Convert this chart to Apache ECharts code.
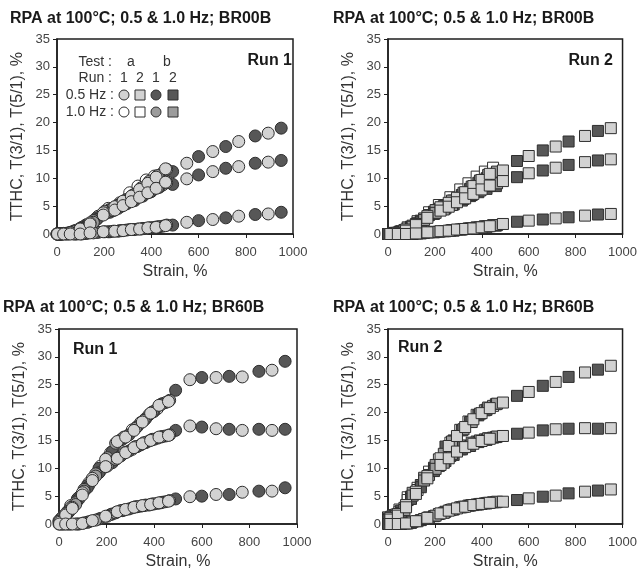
<!DOCTYPE html>
<html>
<head>
<meta charset="utf-8">
<script src="https://cdn.jsdelivr.net/npm/echarts@6/dist/echarts.min.js"></script>
<style>
  html, body { margin: 0; padding: 0; background: #fff; }
  #chart { width: 640px; height: 584px; }
</style>
</head>
<body>
<div id="chart"></div>
<script>
// Strain points (%) of the RPA sweeps
const strain05_s1 = [2, 28, 56, 98, 140, 196, 245, 280, 315, 350, 385, 420, 460, 550, 660, 770, 895];
const strain05_s2 = [10, 42, 77, 119, 168, 224, 259, 294, 329, 364, 399, 434, 490, 600, 715, 840, 950];
const strain10_s1 = [0, 21, 49, 84, 126, 175, 217, 266, 308, 343, 378, 413, 448];
const strain10_s2 = [14, 35, 70, 105, 154, 203, 238, 273, 322, 357, 392, 427, 465];

// BR00B, Run 1
const b00r1_a05_tthc = [0, 0.1, 0.3, 1.0, 2.0, 3.8, 4.9, 5.9, 6.8, 8.0, 9.1, 10.2, 11.7, 12.7, 14.8, 16.6, 18.1];
const b00r1_a05_t31  = [0, 0.1, 0.2, 0.9, 1.8, 3.4, 4.3, 5.1, 5.8, 6.6, 7.4, 8.2, 9.3, 9.9, 11.2, 12.1, 12.9];
const b00r1_a05_t51  = [0, 0, 0, 0, 0.2, 0.4, 0.5, 0.6, 0.8, 0.9, 1.1, 1.2, 1.5, 2.1, 2.6, 3.2, 3.6];
const b00r1_b05_tthc = [0, 0.1, 0.6, 1.5, 2.9, 4.4, 5.2, 6.2, 7.1, 8.2, 9.3, 10.3, 11.2, 13.9, 15.7, 17.6, 19.0];
const b00r1_b05_t31  = [0, 0.1, 0.5, 1.3, 2.6, 3.9, 4.6, 5.4, 6.0, 6.8, 7.6, 8.4, 8.9, 10.6, 11.8, 12.7, 13.2];
const b00r1_b05_t51  = [0, 0, 0, 0.1, 0.3, 0.4, 0.5, 0.7, 0.8, 1.0, 1.1, 1.3, 1.6, 2.4, 2.9, 3.5, 3.9];
const b00r1_a10_tthc = [0, 0, 0.2, 0.7, 1.7, 3.2, 4.6, 5.6, 7.4, 8.6, 9.7, 10.4, 11.0];
const b00r1_a10_t31  = [0, 0, 0.1, 0.6, 1.5, 2.9, 4.0, 4.9, 6.1, 6.8, 7.6, 8.2, 8.8];
const b00r1_a10_t51  = [0, 0, 0, 0, 0.1, 0.3, 0.4, 0.6, 0.8, 0.9, 1.0, 1.2, 1.4];
const b00r1_b10_tthc = [0, 0.1, 0.5, 1.2, 2.4, 4.1, 4.7, 5.6, 7.0, 8.3, 9.5, 10.5, 11.6];
const b00r1_b10_t31  = [0, 0.1, 0.4, 1.0, 2.1, 3.6, 4.2, 5.0, 6.1, 6.8, 7.5, 8.3, 9.2];
const b00r1_b10_t51  = [0, 0, 0, 0, 0.2, 0.4, 0.5, 0.6, 0.8, 0.9, 1.1, 1.3, 1.6];

// BR00B, Run 2
const b00r2_a05_tthc = [0, 0.2, 0.8, 1.8, 3.2, 4.8, 5.6, 6.5, 7.5, 8.6, 9.7, 10.8, 11.4, 14.0, 15.7, 17.6, 19.0];
const b00r2_a05_t31  = [0, 0.2, 0.6, 1.6, 2.9, 4.2, 4.9, 5.7, 6.4, 7.2, 8.0, 8.7, 9.5, 10.9, 11.9, 12.9, 13.4];
const b00r2_a05_t51  = [0, 0, 0, 0.1, 0.3, 0.5, 0.6, 0.8, 0.9, 1.0, 1.2, 1.4, 1.8, 2.4, 2.8, 3.3, 3.6];
const b00r2_b05_tthc = [0, 0.2, 0.5, 1.3, 2.4, 4.0, 5.2, 6.0, 7.0, 8.1, 9.2, 10.0, 10.8, 13.1, 15.0, 16.6, 18.5];
const b00r2_b05_t31  = [0, 0.1, 0.4, 1.1, 2.1, 3.6, 4.6, 5.3, 6.0, 6.8, 7.5, 8.1, 8.6, 10.2, 11.4, 12.4, 13.2];
const b00r2_b05_t51  = [0, 0, 0, 0, 0.1, 0.3, 0.5, 0.6, 0.8, 1.0, 1.1, 1.3, 1.5, 2.2, 2.6, 3.0, 3.5];
const b00r2_a10_tthc = [0, 0.1, 0.4, 1.2, 2.3, 3.9, 5.2, 6.6, 8.0, 9.1, 10.3, 11.2, 11.9];
const b00r2_a10_t31  = [0, 0.1, 0.3, 1.0, 2.0, 3.4, 4.5, 5.5, 6.5, 7.3, 8.2, 9.0, 9.6];
const b00r2_a10_t51  = [0, 0, 0, 0, 0.1, 0.3, 0.4, 0.6, 0.8, 1.0, 1.2, 1.4, 1.6];
const b00r2_b10_tthc = [0, 0.2, 0.7, 1.5, 2.8, 4.3, 5.0, 6.0, 7.4, 8.5, 9.6, 10.6, 11.2];
const b00r2_b10_t31  = [0, 0.1, 0.6, 1.3, 2.5, 3.8, 4.4, 5.2, 6.3, 7.0, 7.8, 8.6, 9.1];
const b00r2_b10_t51  = [0, 0, 0, 0, 0.2, 0.4, 0.5, 0.7, 0.9, 1.0, 1.2, 1.4, 1.6];

// BR60B, Run 1
const b60r1_a05_tthc = [0.5, 1.8, 3.0, 5.6, 8.2, 11.6, 14.8, 15.6, 16.8, 18.3, 19.9, 21.3, 22.0, 25.9, 26.3, 26.4, 27.6];
const b60r1_a05_t31  = [0.3, 1.6, 2.8, 5.2, 7.8, 10.3, 11.8, 12.8, 13.7, 14.4, 15.0, 15.6, 15.9, 17.6, 17.1, 16.8, 16.8];
const b60r1_a05_t51  = [0, 0, 0, 0.1, 0.6, 1.4, 2.2, 2.6, 3.0, 3.3, 3.5, 3.8, 4.1, 4.9, 5.3, 5.7, 5.9];
const b60r1_b05_tthc = [1.0, 2.4, 4.5, 6.9, 10.0, 13.0, 15.1, 16.0, 17.5, 18.9, 20.2, 21.6, 24.0, 26.3, 26.5, 27.4, 29.2];
const b60r1_b05_t31  = [0.8, 2.2, 4.2, 6.5, 9.2, 11.0, 12.2, 13.1, 13.9, 14.6, 15.2, 15.7, 16.8, 17.4, 17.0, 17.0, 17.0];
const b60r1_b05_t51  = [0, 0, 0, 0.3, 0.9, 1.8, 2.4, 2.7, 3.1, 3.4, 3.6, 3.9, 4.5, 5.0, 5.3, 5.9, 6.5];
const b60r1_a10_tthc = [0.6, 1.5, 3.3, 4.8, 7.4, 10.4, 12.8, 15.2, 16.9, 18.2, 19.6, 20.7, 21.8];
const b60r1_a10_t31  = [0.4, 1.3, 3.0, 4.5, 7.0, 9.6, 11.2, 12.5, 13.4, 14.2, 14.9, 15.4, 15.8];
const b60r1_a10_t51  = [0, 0, 0, 0, 0.4, 1.0, 1.7, 2.4, 2.9, 3.2, 3.4, 3.7, 4.0];
const b60r1_b10_tthc = [1.2, 2.2, 3.8, 6.2, 9.0, 11.9, 14.5, 15.6, 17.2, 18.6, 20.1, 21.4, 22.2];
const b60r1_b10_t31  = [1.0, 2.0, 3.5, 5.9, 8.6, 10.4, 11.6, 12.8, 13.9, 14.6, 15.2, 15.6, 16.0];
const b60r1_b10_t51  = [0, 0, 0, 0.2, 0.7, 1.4, 2.0, 2.5, 3.1, 3.3, 3.6, 3.8, 4.2];

// BR60B, Run 2
const b60r2_a05_tthc = [1.1, 1.8, 3.4, 5.8, 8.6, 11.8, 14.0, 15.8, 17.4, 18.8, 19.9, 20.8, 21.8, 23.7, 25.5, 27.2, 28.4];
const b60r2_a05_t31  = [0.8, 1.5, 3.0, 5.4, 8.2, 10.6, 11.8, 13.0, 13.8, 14.4, 14.9, 15.3, 15.8, 16.4, 17.0, 17.2, 17.2];
const b60r2_a05_t51  = [0, 0, 0.1, 0.5, 1.1, 1.9, 2.4, 2.8, 3.1, 3.4, 3.6, 3.8, 4.0, 4.6, 5.1, 5.8, 6.2];
const b60r2_b05_tthc = [1.0, 1.6, 2.4, 4.9, 7.0, 10.1, 13.9, 15.0, 16.8, 18.3, 19.5, 20.5, 21.5, 23.0, 24.8, 26.4, 27.7];
const b60r2_b05_t31  = [0.7, 1.3, 2.0, 4.5, 6.6, 9.5, 11.3, 12.4, 13.4, 14.0, 14.7, 15.1, 15.6, 16.2, 16.8, 17.1, 17.1];
const b60r2_b05_t51  = [0, 0, 0, 0.2, 0.7, 1.4, 2.2, 2.6, 3.0, 3.3, 3.5, 3.7, 3.9, 4.3, 4.9, 5.5, 6.0];
const b60r2_a10_tthc = [1.2, 1.5, 2.6, 4.8, 6.5, 9.4, 11.6, 14.6, 16.9, 18.4, 19.6, 20.4, 21.2];
const b60r2_a10_t31  = [0.9, 1.2, 2.2, 4.3, 6.1, 8.8, 10.4, 12.2, 13.4, 14.1, 14.8, 15.2, 15.5];
const b60r2_a10_t51  = [0, 0, 0, 0.1, 0.5, 1.2, 1.8, 2.5, 3.0, 3.3, 3.5, 3.7, 3.9];
const b60r2_b10_tthc = [1.3, 1.7, 2.9, 5.6, 8.3, 10.6, 12.6, 14.8, 17.0, 18.3, 19.8, 20.9, 21.6];
const b60r2_b10_t31  = [1.0, 1.4, 2.5, 5.1, 7.8, 9.9, 11.0, 12.6, 13.8, 14.6, 15.0, 15.4, 15.7];
const b60r2_b10_t51  = [0, 0, 0.1, 0.4, 0.9, 1.5, 2.0, 2.6, 3.1, 3.4, 3.6, 3.8, 4.0];

// Axis ticks
const xTicks = [0, 200, 400, 600, 800, 1000];
const yTicks = [0, 5, 10, 15, 20, 25, 30, 35];

const FONT = '"Liberation Sans", Arial, Helvetica, sans-serif';
const FILL = { b05: '#575757', b10: '#9c9c9c', a05: '#d2d2d2', a10: '#ffffff' };
const EDGE = '#2e2e2e';

// Panel layout and the sweeps that belong to each panel
const panels = [
  { title: 'RPA at 100°C; 0.5 & 1.0 Hz; BR00B', run: 'Run 1', symbol: 'circle',
    grid: { left: 57, top: 39, width: 236, height: 195 }, titlePos: [10, 19], runPos: [292, 61, 'right'],
    sets: {
      b05: [strain05_s2, b00r1_b05_tthc, b00r1_b05_t31, b00r1_b05_t51],
      b10: [strain10_s2, b00r1_b10_tthc, b00r1_b10_t31, b00r1_b10_t51],
      a05: [strain05_s1, b00r1_a05_tthc, b00r1_a05_t31, b00r1_a05_t51],
      a10: [strain10_s1, b00r1_a10_tthc, b00r1_a10_t31, b00r1_a10_t51]
    } },
  { title: 'RPA at 100°C; 0.5 & 1.0 Hz; BR00B', run: 'Run 2', symbol: 'rect',
    grid: { left: 388, top: 39, width: 237, height: 195 }, titlePos: [333, 19], runPos: [613, 61, 'right'],
    sets: {
      b05: [strain05_s1, b00r2_b05_tthc, b00r2_b05_t31, b00r2_b05_t51],
      b10: [strain10_s2, b00r2_b10_tthc, b00r2_b10_t31, b00r2_b10_t51],
      a05: [strain05_s2, b00r2_a05_tthc, b00r2_a05_t31, b00r2_a05_t51],
      a10: [strain10_s1, b00r2_a10_tthc, b00r2_a10_t31, b00r2_a10_t51]
    } },
  { title: 'RPA at 100°C; 0.5 & 1.0 Hz; BR60B', run: 'Run 1', symbol: 'circle',
    grid: { left: 59, top: 329, width: 238, height: 195 }, titlePos: [3, 308], runPos: [73, 350, 'left'],
    sets: {
      b05: [strain05_s2, b60r1_b05_tthc, b60r1_b05_t31, b60r1_b05_t51],
      b10: [strain10_s2, b60r1_b10_tthc, b60r1_b10_t31, b60r1_b10_t51],
      a05: [strain05_s1, b60r1_a05_tthc, b60r1_a05_t31, b60r1_a05_t51],
      a10: [strain10_s1, b60r1_a10_tthc, b60r1_a10_t31, b60r1_a10_t51]
    } },
  { title: 'RPA at 100°C; 0.5 & 1.0 Hz; BR60B', run: 'Run 2', symbol: 'rect',
    grid: { left: 388, top: 329, width: 237, height: 195 }, titlePos: [333, 308], runPos: [398, 348, 'left'],
    sets: {
      b05: [strain05_s1, b60r2_b05_tthc, b60r2_b05_t31, b60r2_b05_t51],
      b10: [strain10_s2, b60r2_b10_tthc, b60r2_b10_t31, b60r2_b10_t51],
      a05: [strain05_s2, b60r2_a05_tthc, b60r2_a05_t31, b60r2_a05_t51],
      a10: [strain10_s1, b60r2_a10_tthc, b60r2_a10_t31, b60r2_a10_t51]
    } }
];

const grids = [], xAxes = [], yAxes = [], series = [], graphics = [];

panels.forEach((p, i) => {
  grids.push(Object.assign({ show: true, borderColor: '#1e1e1e', borderWidth: 1.5, backgroundColor: 'transparent' }, p.grid));
  xAxes.push({
    type: 'value', gridIndex: i, min: xTicks[0], max: xTicks[xTicks.length - 1], interval: xTicks[1] - xTicks[0],
    axisLine: { show: true, lineStyle: { color: '#1e1e1e', width: 1.5 } },
    axisTick: { show: true, length: 4, lineStyle: { color: '#1e1e1e' } },
    splitLine: { show: false },
    axisLabel: { fontSize: 13, color: '#444', fontFamily: FONT, margin: 12, formatter: v => String(v) },
    name: 'Strain, %', nameLocation: 'middle', nameGap: 30,
    nameTextStyle: { fontSize: 16, color: '#333', fontFamily: FONT }
  });
  yAxes.push({
    type: 'value', gridIndex: i, min: yTicks[0], max: yTicks[yTicks.length - 1], interval: yTicks[1] - yTicks[0],
    axisLine: { show: true, lineStyle: { color: '#1e1e1e', width: 1.5 } },
    axisTick: { show: true, length: 4, lineStyle: { color: '#1e1e1e' } },
    splitLine: { show: false },
    axisLabel: { fontSize: 13, color: '#444', fontFamily: FONT, margin: 7, formatter: v => String(v) },
    name: 'TTHC, T(3/1), T(5/1), %', nameLocation: 'middle', nameGap: 31,
    nameTextStyle: { fontSize: 16, color: '#333', fontFamily: FONT }
  });

  // open 1.0 Hz symbols underneath, filled ones over them
  ['a10', 'b05', 'b10', 'a05'].forEach(key => {
    const [strain, tthc, t31, t51] = p.sets[key];
    [tthc, t31, t51].forEach(vals => {
      series.push({
        type: 'scatter', xAxisIndex: i, yAxisIndex: i,
        symbol: p.symbol, symbolSize: p.symbol === 'rect' ? 11 : 12,
        itemStyle: { color: FILL[key], borderColor: EDGE, borderWidth: 1, opacity: 1 },
        emphasis: { disabled: true },
        data: strain.map((s, k) => [s, vals[k]])
      });
    });
  });

  graphics.push({
    type: 'text', x: p.titlePos[0], y: p.titlePos[1],
    style: { text: p.title, font: 'bold 16px ' + FONT, fill: '#1a1a1a', align: 'left', verticalAlign: 'middle', textAlign: 'left', textVerticalAlign: 'middle' }
  });
  graphics.push({
    type: 'text', x: p.runPos[0], y: p.runPos[1], z: 100,
    style: { text: p.run, font: 'bold 16px ' + FONT, fill: '#1a1a1a', align: p.runPos[2], verticalAlign: 'middle', textAlign: p.runPos[2], textVerticalAlign: 'middle' }
  });
});

// Key for the symbols, drawn inside the first panel
function keyText(text, x, y, align) {
  return { type: 'text', x: x, y: y, z: 100,
    style: { text: text, font: '14px ' + FONT, fill: '#333', align: align, verticalAlign: 'middle', textAlign: align, textVerticalAlign: 'middle' } };
}
function keyMark(kind, fill, cx, cy) {
  const st = { fill: fill, stroke: EDGE, lineWidth: 1 };
  if (kind === 'circle') return { type: 'circle', z: 100, shape: { cx: cx, cy: cy, r: 5 }, style: st };
  return { type: 'rect', z: 100, shape: { x: cx - 5, y: cy - 5, width: 10, height: 10 }, style: st };
}
const keyCols = [124, 140, 156, 173];
graphics.push(keyText('Test :', 112, 62, 'right'));
graphics.push(keyText('a', 131, 62, 'center'));
graphics.push(keyText('b', 167, 62, 'center'));
graphics.push(keyText('Run :', 112, 78, 'right'));
['1', '2', '1', '2'].forEach((t, k) => graphics.push(keyText(t, keyCols[k], 78, 'center')));
graphics.push(keyText('0.5 Hz :', 114, 95, 'right'));
graphics.push(keyText('1.0 Hz :', 114, 112, 'right'));
[['circle', FILL.a05], ['rect', FILL.a05], ['circle', FILL.b05], ['rect', FILL.b05]].forEach((m, k) =>
  graphics.push(keyMark(m[0], m[1], keyCols[k], 95)));
[['circle', FILL.a10], ['rect', FILL.a10], ['circle', FILL.b10], ['rect', FILL.b10]].forEach((m, k) =>
  graphics.push(keyMark(m[0], m[1], keyCols[k], 112)));

const chart = echarts.init(document.getElementById('chart'), null, { renderer: 'canvas' });
chart.setOption({
  animation: false,
  backgroundColor: '#ffffff',
  textStyle: { fontFamily: FONT },
  grid: grids,
  xAxis: xAxes,
  yAxis: yAxes,
  series: series,
  graphic: graphics
});
</script>
</body>
</html>
